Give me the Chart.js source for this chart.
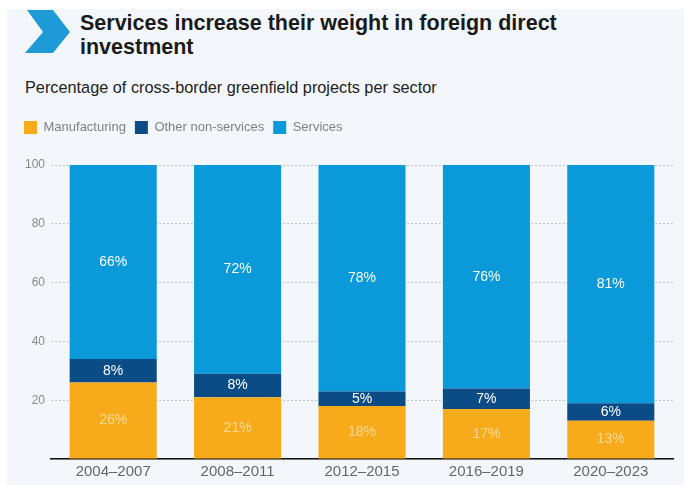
<!DOCTYPE html>
<html>
<head>
<meta charset="utf-8">
<script src="https://cdn.jsdelivr.net/npm/chart.js@4.4.1/dist/chart.umd.min.js"></script>
<style>
    html, body { margin: 0; padding: 0; background: #ffffff; }
    body { width: 684px; height: 485px; position: relative; overflow: hidden; font-family: 'Liberation Sans', Arial, sans-serif; }
    #panel { position: absolute; left: 7px; top: 9px; right: 0; bottom: 0; background: #F3F7FC; }
    #chevron { position: absolute; left: 0; top: 0; }
    #titulo { position: absolute; left: 80px; top: 11px; font-size: 21.5px; font-weight: bold; line-height: 24px; color: #1a1a1a; }
    #subtitulo { position: absolute; left: 25px; top: 78px; font-size: 16.3px; color: #222; }
    #grafica { position: absolute; left: 0; top: 0; }
</style>
</head>
<body>
<div id="panel"></div>
<svg id="chevron" width="80" height="60">
    <polygon points="27,10 53,10 70,32 53,53 25,53 43,32" fill="#1E9BD7"/>
</svg>
<div id="titulo">Services increase their weight in foreign direct<br>investment</div>
<div id="subtitulo">Percentage of cross-border greenfield projects per sector</div>
<canvas id="grafica" width="684" height="485"></canvas>
<script>
// Datos
const periodos = ['2004–2007', '2008–2011', '2012–2015', '2016–2019', '2020–2023'];
const manufactura = [26, 21, 18, 17, 13];
const otrosNoServicios = [8, 8, 5, 7, 6];
const servicios = [66, 72, 78, 76, 81];
const ticksY = [0, 20, 40, 60, 80, 100];

const colores = {
    manufactura: '#F8AB1A',
    otros: '#0B4B86',
    servicios: '#0A9AD9'
};

// Etiquetas dentro de las barras
const etiquetasBarras = {
    id: 'etiquetasBarras',
    afterDatasetsDraw(chart) {
        const ctx = chart.ctx;
        const coloresTexto = ['rgba(255,255,255,0.55)', '#ffffff', '#ffffff'];
        ctx.save();
        ctx.font = '14px "Liberation Sans", Arial, sans-serif';
        ctx.textAlign = 'center';
        ctx.textBaseline = 'middle';
        chart.data.datasets.forEach((ds, i) => {
            const meta = chart.getDatasetMeta(i);
            meta.data.forEach((bar, j) => {
                const top = Math.max(bar.y, chart.chartArea.top);
                const y = (top + bar.base) / 2;
                ctx.fillStyle = coloresTexto[i];
                ctx.fillText(ds.data[j] + '%', bar.x, y);
            });
        });
        ctx.restore();
    }
};

// Espacio extra bajo la leyenda
const margenLeyenda = {
    id: 'margenLeyenda',
    beforeInit(chart) {
        const fitOriginal = chart.legend.fit;
        chart.legend.fit = function fit() {
            fitOriginal.bind(chart.legend)();
            this.height += 21;
        };
    }
};

const ctx = document.getElementById('grafica').getContext('2d');
new Chart(ctx, {
    type: 'bar',
    data: {
        labels: periodos,
        datasets: [
            { label: 'Manufacturing', data: manufactura, backgroundColor: colores.manufactura, borderWidth: 0 },
            { label: 'Other non-services', data: otrosNoServicios, backgroundColor: colores.otros, borderWidth: 0 },
            { label: 'Services', data: servicios, backgroundColor: colores.servicios, borderWidth: 0 }
        ]
    },
    options: {
        responsive: false,
        animation: false,
        devicePixelRatio: 1,
        layout: { padding: { top: 112, left: 15, right: 11, bottom: 0 } },
        datasets: { bar: { categoryPercentage: 1, barPercentage: 0.7 } },
        plugins: {
            legend: {
                position: 'top',
                align: 'start',
                labels: {
                    boxWidth: 13,
                    boxHeight: 13,
                    padding: 9,
                    color: '#808080',
                    font: { size: 13, family: '"Liberation Sans", Arial, sans-serif' }
                }
            },
            tooltip: { enabled: false }
        },
        scales: {
            x: {
                stacked: true,
                grid: { display: false, drawTicks: false },
                border: { color: '#111', width: 1.5 },
                ticks: {
                    color: '#666',
                    padding: 4,
                    font: { size: 15, family: '"Liberation Sans", Arial, sans-serif' }
                }
            },
            y: {
                stacked: true,
                min: 0,
                max: 100,
                afterFit(scale) { scale.width = 36; },
                afterBuildTicks(scale) { scale.ticks = ticksY.map(v => ({ value: v })); },
                border: { display: false, dash: [2, 2] },
                grid: { color: '#c4c4c4', drawTicks: false, tickLength: 0 },
                ticks: {
                    color: '#888',
                    padding: 6,
                    font: { size: 12, family: '"Liberation Sans", Arial, sans-serif' },
                    callback: function(value) { return value === 0 ? '' : value; }
                }
            }
        }
    },
    plugins: [etiquetasBarras, margenLeyenda]
});
</script>
</body>
</html>
